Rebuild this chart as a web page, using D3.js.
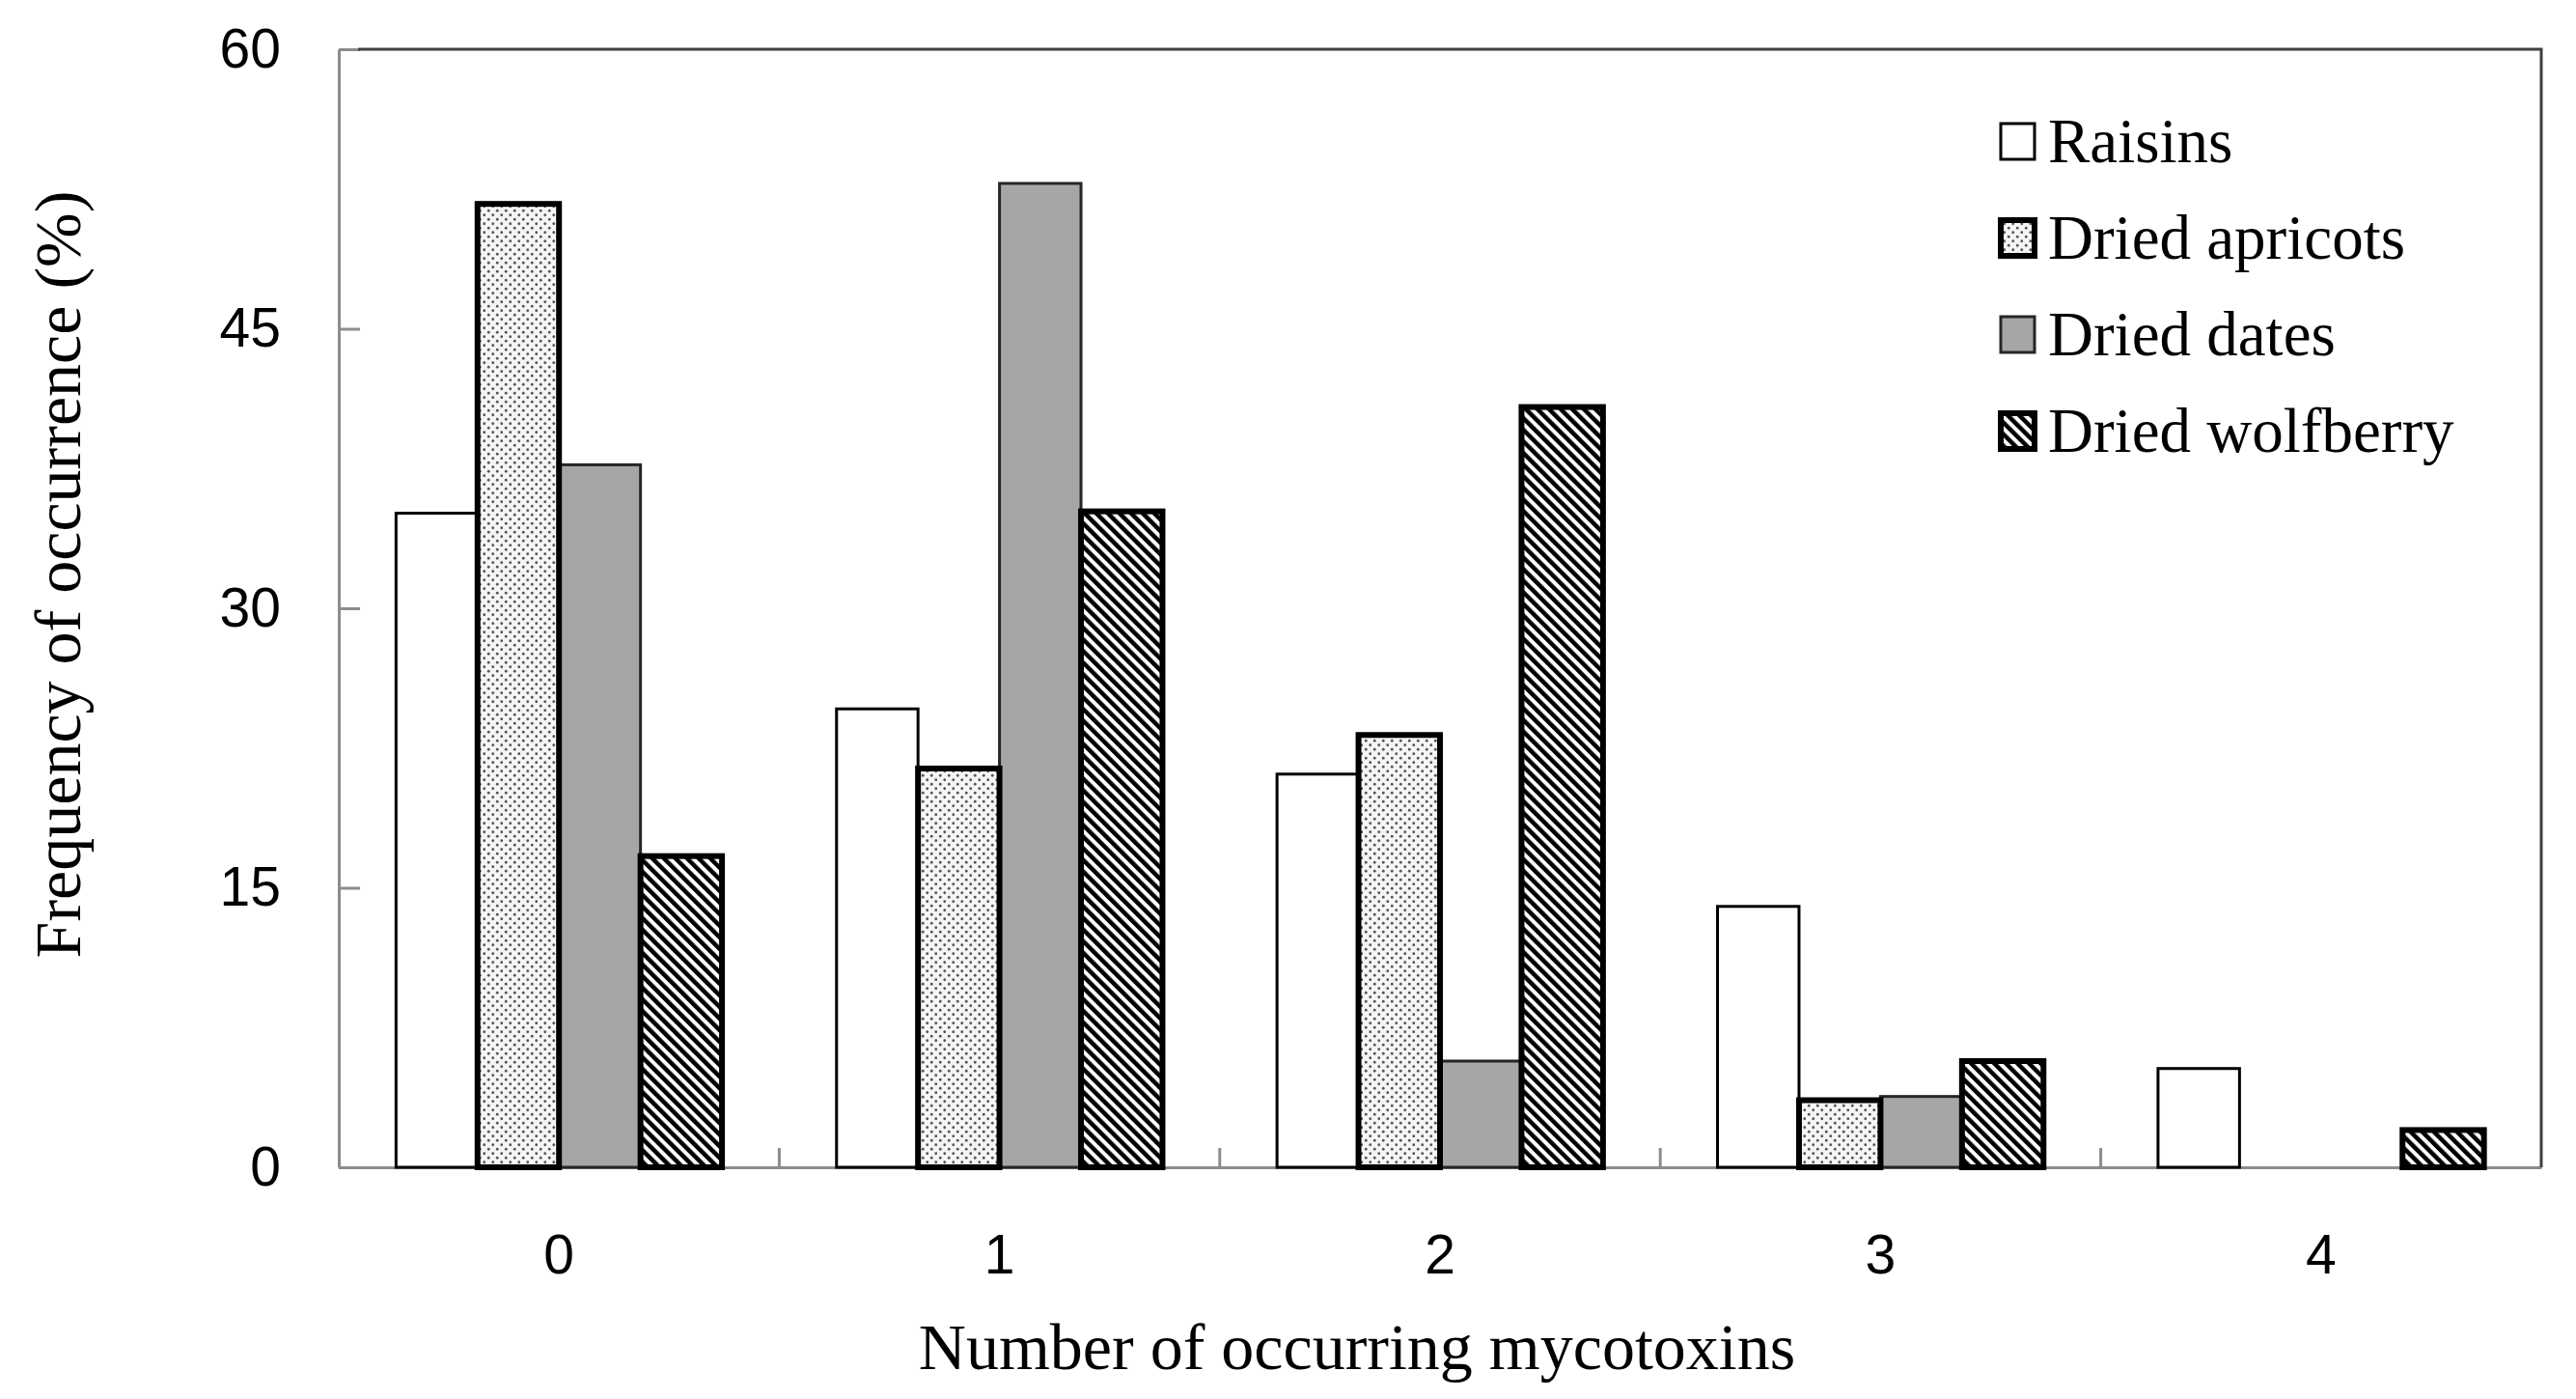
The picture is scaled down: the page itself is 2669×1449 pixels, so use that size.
<!DOCTYPE html>
<html>
<head>
<meta charset="utf-8">
<title>Mycotoxins</title>
<script src="https://cdn.jsdelivr.net/npm/d3@7/dist/d3.min.js"></script>
<style>
  html, body { margin: 0; background: #fff; }
  .tick text { font-family: "Liberation Sans", Arial, sans-serif; font-size: 57px; fill: #000; }
  .title { font-family: "Liberation Serif", "Times New Roman", serif; font-size: 68px; fill: #000; }
  .legend text { font-family: "Liberation Serif", "Times New Roman", serif; font-size: 65px; fill: #000; }
</style>
</head>
<body>
<svg id="chart" width="2669" height="1449"></svg>
<script>
// values (%)
var categories = ["0", "1", "2", "3", "4"];
var seriesNames = ["Raisins", "Dried apricots", "Dried dates", "Dried wolfberry"];
var raisins   = [35.1, 24.6, 21.1, 14.0, 5.3];
var apricots  = [51.7, 21.4, 23.2, 3.6, 0];
var dates     = [37.7, 52.8, 5.7, 3.8, 0];
var wolfberry = [16.7, 35.2, 40.8, 5.7, 2.0];
var yTicks = [0, 15, 30, 45, 60];

var series = [raisins, apricots, dates, wolfberry];

// plot box (note: "top" is a reserved global in browsers)
var plotLeft = 351, plotRight = 2633, plotTop = 51, plotBottom = 1209;

var svg = d3.select("#chart");
svg.append("rect").attr("width", 2669).attr("height", 1449).attr("fill", "#fff");

/* fill patterns */
var defs = svg.append("defs");
var dots = defs.append("pattern").attr("id", "dots")
  .attr("patternUnits", "userSpaceOnUse").attr("width", 9).attr("height", 9);
dots.append("rect").attr("width", 9).attr("height", 9).attr("fill", "#f5f5f5");
dots.append("circle").attr("cx", 2.25).attr("cy", 2.25).attr("r", 1.4).attr("fill", "#555");
dots.append("circle").attr("cx", 6.75).attr("cy", 6.75).attr("r", 1.4).attr("fill", "#555");

var hatch = defs.append("pattern").attr("id", "hatch")
  .attr("patternUnits", "userSpaceOnUse").attr("width", 8.5).attr("height", 8.5)
  .attr("patternTransform", "rotate(-45)");
hatch.append("rect").attr("width", 8.5).attr("height", 8.5).attr("fill", "#fff");
hatch.append("rect").attr("width", 4.5).attr("height", 8.5).attr("fill", "#000");

var fills   = ["#fff", "url(#dots)", "#a6a6a6", "url(#hatch)"];
var strokes = ["#000", "#000", "#262626", "#000"];
var widths  = [3, 6, 3, 6];

/* scales */
var x0 = d3.scaleBand().domain(categories).range([plotLeft, plotRight])
  .paddingInner(0.26).paddingOuter(0.13);
var x1 = d3.scaleBand().domain(seriesNames).range([0, x0.bandwidth()]);
var y = d3.scaleLinear().domain([0, 60]).range([plotBottom, plotTop]);

/* axes */
var yAxis = svg.append("g").attr("transform", "translate(" + plotLeft + ",0)")
  .call(d3.axisLeft(y).tickValues(yTicks).tickSize(-22).tickSizeOuter(0).tickPadding(60));
yAxis.selectAll("line, path").attr("stroke", "#8c8c8c").attr("stroke-width", 3);

var xAxis = svg.append("g").attr("transform", "translate(0," + plotBottom + ")")
  .call(d3.axisBottom(x0).tickSize(0).tickSizeOuter(0).tickPadding(70));
xAxis.select(".domain").attr("stroke", "#8c8c8c").attr("stroke-width", 3);

// category boundary ticks
var step = x0.step();
svg.append("g").selectAll("line").data(categories.slice(1)).enter().append("line")
  .attr("x1", function(d) { return x0(d) - step * x0.paddingInner() / 2; })
  .attr("x2", function(d) { return x0(d) - step * x0.paddingInner() / 2; })
  .attr("y1", plotBottom).attr("y2", plotBottom - 20)
  .attr("stroke", "#8c8c8c").attr("stroke-width", 3);

// top and right frame
svg.append("path")
  .attr("d", "M" + (plotLeft + 20) + "," + plotTop + "H" + plotRight + "V" + plotBottom)
  .attr("fill", "none").attr("stroke", "#404040").attr("stroke-width", 3);

/* bars: thin-outlined series first, thick ones on top */
[0, 2, 1, 3].forEach(function(s) {
  svg.append("g").selectAll("rect")
    .data(series[s].map(function(v, i) { return { c: categories[i], v: v }; })
      .filter(function(d) { return d.v > 0; }))
    .enter().append("rect")
    .attr("x", function(d) { return x0(d.c) + x1(seriesNames[s]); })
    .attr("y", function(d) { return y(d.v); })
    .attr("width", x1.bandwidth())
    .attr("height", function(d) { return y(0) - y(d.v); })
    .attr("fill", fills[s])
    .attr("stroke", strokes[s])
    .attr("stroke-width", widths[s]);
});

/* legend */
var legend = svg.append("g").attr("class", "legend");
seriesNames.forEach(function(name, i) {
  var base = 168 + i * 100;
  legend.append("rect")
    .attr("x", 2073).attr("y", base - 40).attr("width", 35).attr("height", 37)
    .attr("fill", fills[i]).attr("stroke", strokes[i]).attr("stroke-width", widths[i]);
  legend.append("text").attr("x", 2122).attr("y", base).text(name);
});

/* titles */
svg.append("text").attr("class", "title")
  .attr("transform", "translate(83,595) rotate(-90)")
  .attr("text-anchor", "middle")
  .text("Frequency of occurrence (%)");

svg.append("text").attr("class", "title")
  .attr("x", 1406).attr("y", 1418)
  .attr("text-anchor", "middle")
  .text("Number of occurring mycotoxins");
</script>
</body>
</html>
